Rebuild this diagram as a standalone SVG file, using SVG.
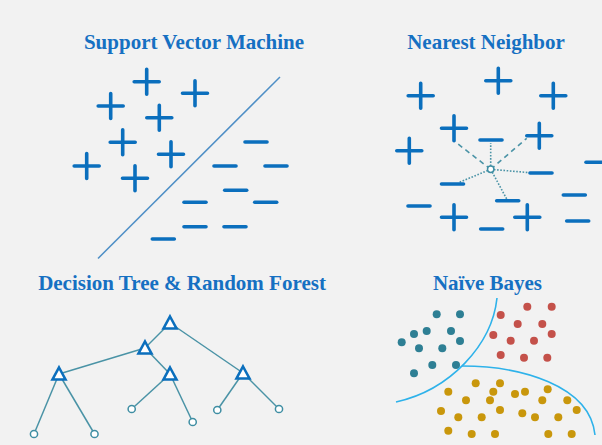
<svg xmlns="http://www.w3.org/2000/svg" width="602" height="445" viewBox="0 0 602 445">
<style>
.title{font-family:"Liberation Serif","Times New Roman",serif;font-weight:bold;font-size:21px;fill:#1670c2;text-anchor:middle}
.sym{stroke:#0b6fbd;stroke-width:3.6;stroke-linecap:round;fill:none}
.dash{stroke:#4a93a6;stroke-width:1.6;fill:none;stroke-dasharray:5 4}
.dot{stroke:#4a93a6;stroke-width:1.6;fill:none;stroke-dasharray:1.6 1.6}
.edge{stroke:#4a93a6;stroke-width:1.5;fill:none}
.tri{stroke:#0b6fbd;stroke-width:2.6;fill:#ffffff;stroke-linejoin:miter}
.leaf{stroke:#3f8ea3;stroke-width:1.5;fill:#ffffff}
.bound{stroke:#2eb2ea;stroke-width:1.6;fill:none}
.teal{fill:#2e7f94}
.red{fill:#c4514a}
.gold{fill:#c9970c}
</style>
<defs>
<path id="plus" class="sym" d="M-12.5,0H12.5M0,-12.5V12.5"/>
<path id="minus" class="sym" d="M-11,0H11"/>
<path id="triangle" class="tri" d="M0,-6.5L6.5,5.5H-6.5Z"/>
</defs>
<rect width="602" height="445" fill="#f2f2f2"/>

<g id="svm">
<text class="title" x="194" y="48.5">Support Vector Machine</text>
<line x1="280" y1="77" x2="98" y2="258.5" stroke="#4f8fc6" stroke-width="1.5"/>
<use href="#plus" x="146.7" y="81.7"/>
<use href="#plus" x="195" y="93.3"/>
<use href="#plus" x="110.7" y="106"/>
<use href="#plus" x="159.3" y="117.7"/>
<use href="#plus" x="122.7" y="142.3"/>
<use href="#plus" x="171" y="154.3"/>
<use href="#plus" x="86.7" y="166"/>
<use href="#plus" x="135" y="178.3"/>
<use href="#minus" x="256" y="142"/>
<use href="#minus" x="225" y="166"/>
<use href="#minus" x="276" y="166"/>
<use href="#minus" x="235.7" y="190.3"/>
<use href="#minus" x="195" y="202.3"/>
<use href="#minus" x="265.7" y="202.3"/>
<use href="#minus" x="195" y="226.7"/>
<use href="#minus" x="235" y="226.7"/>
<use href="#minus" x="163.3" y="239"/>
</g>

<g id="nearest-neighbor">
<text class="title" x="486" y="48.5">Nearest Neighbor</text>
<g id="nn-links">
<line class="dash" x1="490.7" y1="169.3" x2="455" y2="141.7"/>
<line class="dash" x1="490.7" y1="169.3" x2="526.7" y2="138.3"/>
<line class="dot" x1="490.7" y1="169.3" x2="490.7" y2="143"/>
<line class="dot" x1="490.7" y1="169.3" x2="530" y2="172.7"/>
<line class="dot" x1="490.7" y1="169.3" x2="458.3" y2="182.7"/>
<line class="dot" x1="490.7" y1="169.3" x2="506.7" y2="199"/>
</g>
<circle cx="490.7" cy="169.3" r="3.2" fill="#ffffff" stroke="#3f8ea3" stroke-width="1.5"/>
<use href="#plus" x="498.3" y="80.7"/>
<use href="#plus" x="420.7" y="95.7"/>
<use href="#plus" x="553.3" y="95.7"/>
<use href="#plus" x="454" y="128.3"/>
<use href="#plus" x="539.3" y="135.7"/>
<use href="#plus" x="409.3" y="150.7"/>
<use href="#plus" x="454" y="217.3"/>
<use href="#plus" x="527.3" y="217.3"/>
<use href="#minus" x="491" y="140"/>
<use href="#minus" x="597" y="162.3"/>
<use href="#minus" x="541" y="173"/>
<use href="#minus" x="452.5" y="184"/>
<use href="#minus" x="507.7" y="200.7"/>
<use href="#minus" x="574.3" y="195"/>
<use href="#minus" x="419" y="206"/>
<use href="#minus" x="577.7" y="221"/>
<use href="#minus" x="491.7" y="229"/>
</g>

<g id="decision-tree">
<text class="title" x="182" y="289.5">Decision Tree &amp; Random Forest</text>
<g id="connectors">
<line class="edge" x1="170" y1="323" x2="145" y2="348"/>
<line class="edge" x1="170" y1="323" x2="243" y2="373"/>
<line class="edge" x1="145" y1="348" x2="59" y2="374"/>
<line class="edge" x1="145" y1="348" x2="170" y2="374"/>
<line class="edge" x1="59" y1="374" x2="34" y2="434"/>
<line class="edge" x1="59" y1="374" x2="94.5" y2="434"/>
<line class="edge" x1="170" y1="374" x2="131.7" y2="409"/>
<line class="edge" x1="170" y1="374" x2="192.7" y2="422"/>
<line class="edge" x1="243" y1="373" x2="217.3" y2="410"/>
<line class="edge" x1="243" y1="373" x2="279" y2="409"/>
</g>
<g id="n-root"><use href="#triangle" x="170" y="323"/></g>
<g id="n-a"><use href="#triangle" x="145" y="348"/></g>
<g id="n-b"><use href="#triangle" x="59" y="374"/></g>
<g id="n-c"><use href="#triangle" x="170" y="374"/></g>
<g id="n-d"><use href="#triangle" x="243" y="373"/></g>
<g id="leaf-1"><circle class="leaf" cx="34" cy="434" r="3.6"/></g>
<g id="leaf-2"><circle class="leaf" cx="94.5" cy="434" r="3.6"/></g>
<g id="leaf-3"><circle class="leaf" cx="131.7" cy="409" r="3.6"/></g>
<g id="leaf-4"><circle class="leaf" cx="192.7" cy="422" r="3.6"/></g>
<g id="leaf-5"><circle class="leaf" cx="217.3" cy="410" r="3.6"/></g>
<g id="leaf-6"><circle class="leaf" cx="279" cy="409" r="3.6"/></g>
</g>

<g id="naive-bayes">
<text class="title" x="487.5" y="289.5">Naïve Bayes</text>
<g class="teal">
<circle cx="436.7" cy="314.3" r="4"/>
<circle cx="460" cy="314.3" r="4"/>
<circle cx="414" cy="334" r="4"/>
<circle cx="426.7" cy="331" r="4"/>
<circle cx="451" cy="331" r="4"/>
<circle cx="401.7" cy="342.3" r="4"/>
<circle cx="460" cy="341" r="4"/>
<circle cx="419" cy="348.3" r="4"/>
<circle cx="442.3" cy="348.3" r="4"/>
<circle cx="432.3" cy="365" r="4"/>
<circle cx="456" cy="365" r="4"/>
<circle cx="414" cy="373.3" r="4"/>
</g>
<g class="red">
<circle cx="527.3" cy="306.7" r="4"/>
<circle cx="551.7" cy="306.7" r="4"/>
<circle cx="500.7" cy="315" r="4"/>
<circle cx="517.7" cy="324" r="4"/>
<circle cx="542.3" cy="324" r="4"/>
<circle cx="493.3" cy="335" r="4"/>
<circle cx="510.7" cy="340.7" r="4"/>
<circle cx="534" cy="340.7" r="4"/>
<circle cx="551.7" cy="334" r="4"/>
<circle cx="500.7" cy="355" r="4"/>
<circle cx="524" cy="357.7" r="4"/>
<circle cx="547.3" cy="357.7" r="4"/>
</g>
<g class="gold">
<circle cx="475.7" cy="383.3" r="4"/>
<circle cx="500" cy="383.3" r="4"/>
<circle cx="448.3" cy="391.7" r="4"/>
<circle cx="493.3" cy="391.7" r="4"/>
<circle cx="515" cy="394" r="4"/>
<circle cx="525" cy="391.7" r="4"/>
<circle cx="547.7" cy="389.3" r="4"/>
<circle cx="466" cy="400.3" r="4"/>
<circle cx="490" cy="400.3" r="4"/>
<circle cx="542.3" cy="400.3" r="4"/>
<circle cx="567.3" cy="400.3" r="4"/>
<circle cx="441" cy="411" r="4"/>
<circle cx="500" cy="410" r="4"/>
<circle cx="576.7" cy="410" r="4"/>
<circle cx="522.3" cy="413.3" r="4"/>
<circle cx="458.3" cy="417.3" r="4"/>
<circle cx="481.7" cy="417.3" r="4"/>
<circle cx="535" cy="417.3" r="4"/>
<circle cx="558.3" cy="417.3" r="4"/>
<circle cx="448.3" cy="430.7" r="4"/>
<circle cx="471.7" cy="434" r="4"/>
<circle cx="495" cy="434" r="4"/>
<circle cx="548.3" cy="434" r="4"/>
<circle cx="571.7" cy="434" r="4"/>
</g>
<path class="bound" d="M497,298 C492,345 450,390 396,402"/>
<path class="bound" d="M462,366 C520,366 590,385 595,435"/>
</g>
</svg>
